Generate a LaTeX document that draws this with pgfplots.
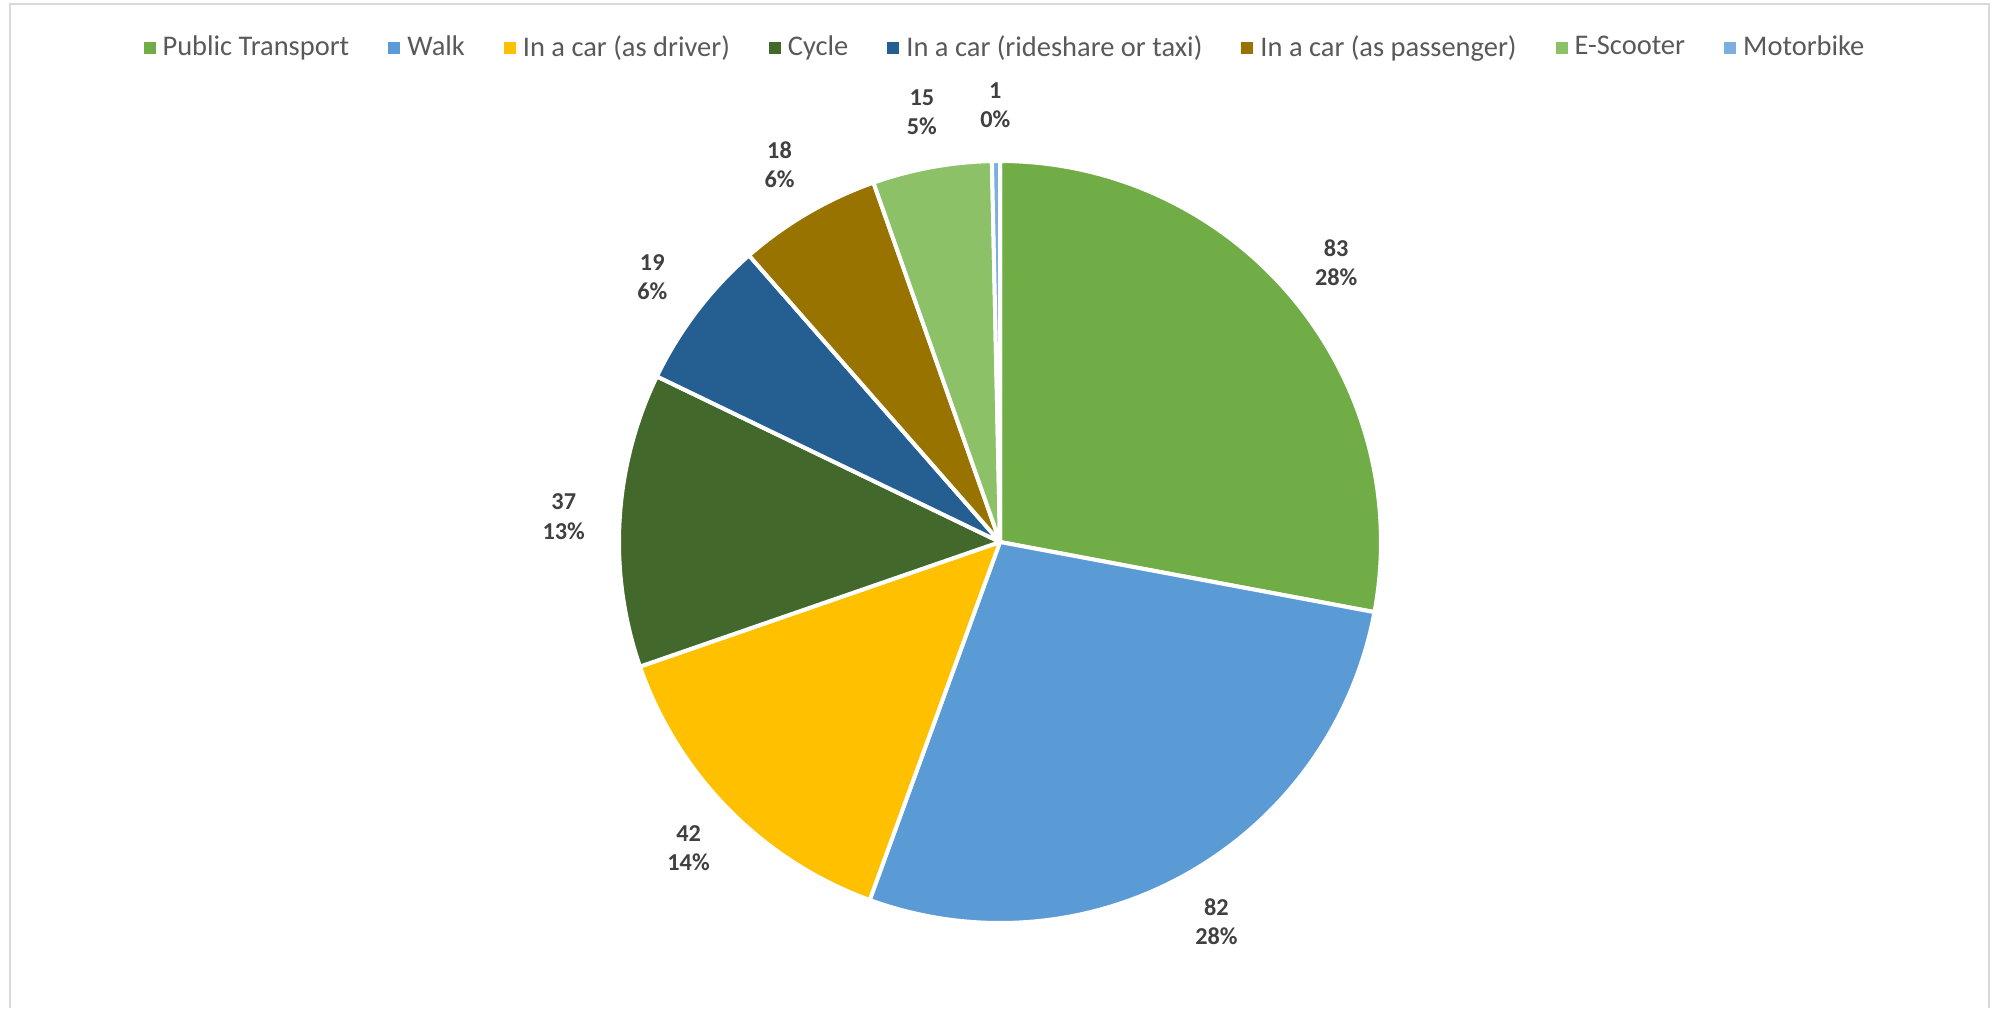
\documentclass[border=0pt]{standalone}
\usepackage{pgfplots}
\pgfplotsset{compat=1.18}
\usepackage{fontspec}
\setmainfont{Carlito}
\definecolor{cPT}{HTML}{70AD47}
\definecolor{cWalk}{HTML}{5B9BD5}
\definecolor{cDriver}{HTML}{FFC000}
\definecolor{cCycle}{HTML}{43682B}
\definecolor{cRide}{HTML}{255E91}
\definecolor{cPass}{HTML}{997300}
\definecolor{cScoot}{HTML}{8CC168}
\definecolor{cMoto}{HTML}{7CAFDD}
\definecolor{lbl}{HTML}{404040}
\definecolor{legtxt}{HTML}{595959}
\definecolor{framec}{HTML}{D9D9D9}
% #1 cumulative start, #2 cumulative end (total 297), #3 colour, #4 legend, #5 label
\newcommand{\slice}[5]{%
  \addplot[fill=#3, draw=white, line width=0.4mm, line join=round, domain={90-360*#2/297}:{90-360*#1/297}, samples=100]
    ({1000+381*cos(x)},{466+381*sin(x)}) -- (axis cs:1000,466) -- cycle;
  \addlegendentry{#4}
  \node[align=center, font=\bfseries\fontsize{6.9pt}{8.3pt}\selectfont, text=lbl]
    at (axis cs:{1000+437*cos(90-180*(#1+#2)/297)},{466+437*sin(90-180*(#1+#2)/297)}) {#5};
}
\begin{document}
\begin{tikzpicture}
\begin{axis}[
  scale only axis, width=199.9mm, height=100.8mm,
  xmin=0, xmax=1999, ymin=0, ymax=1008,
  hide axis, clip=false, no markers,
  legend image code/.code={\fill[#1, draw=none] (0mm,-0.6mm) rectangle (1.2mm,0.6mm);},
  legend style={at={(0.504,0.952)}, anchor=center, legend columns=-1, draw=none, fill=none,
    font=\fontsize{8.1pt}{9.5pt}\selectfont, text=legtxt,
    /tikz/every even column/.append style={column sep=3.2mm},
    inner sep=0pt},
]
\path (axis cs:0,0) rectangle (axis cs:1999,1008);
\draw[framec, line width=0.25mm] (axis cs:10,0) -- (axis cs:10,1004) -- (axis cs:1989,1004) -- (axis cs:1989,0);
\slice{0}{83}{cPT}{Public Transport}{83\\28\%}
\slice{83}{165}{cWalk}{Walk}{82\\28\%}
\slice{165}{207}{cDriver}{In a car (as driver)}{42\\14\%}
\slice{207}{244}{cCycle}{Cycle}{37\\13\%}
\slice{244}{263}{cRide}{In a car (rideshare or taxi)}{19\\6\%}
\slice{263}{281}{cPass}{In a car (as passenger)}{18\\6\%}
\slice{281}{296}{cScoot}{E-Scooter}{15\\5\%}
\slice{296}{297}{cMoto}{Motorbike}{1\\0\%}
\end{axis}
\end{tikzpicture}
\end{document}
